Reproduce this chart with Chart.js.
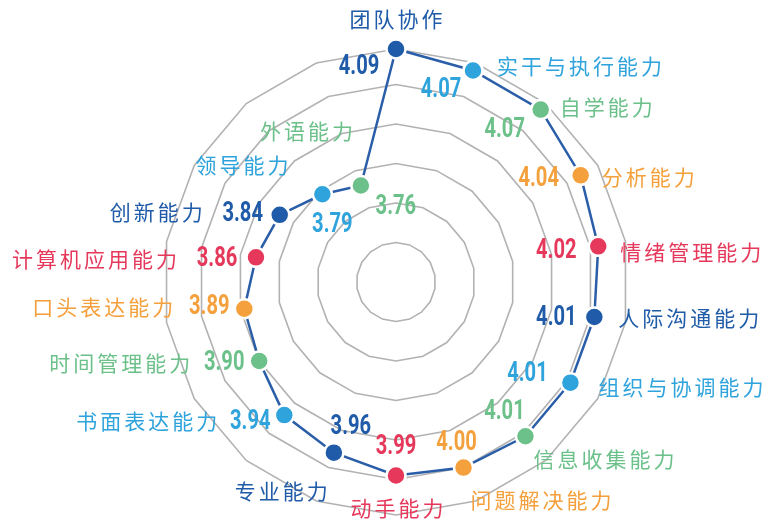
<!DOCTYPE html>
<html>
<head>
<meta charset="utf-8">
<script src="https://cdn.jsdelivr.net/npm/chart.js@4.4.1/dist/chart.umd.min.js"></script>
<style>
  html, body { margin: 0; padding: 0; background: #ffffff; }
  #wrap { width: 773px; height: 522px; }
</style>
</head>
<body>
<div id="wrap"><canvas id="chart" width="773" height="522"></canvas></div>

<script>
// categories clockwise from the top
const categories = ["团队协作", "实干与执行能力", "自学能力", "分析能力", "情绪管理能力",
  "人际沟通能力", "组织与协调能力", "信息收集能力", "问题解决能力", "动手能力",
  "专业能力", "书面表达能力", "时间管理能力", "口头表达能力", "计算机应用能力",
  "创新能力", "领导能力", "外语能力"];
const scores = [4.09, 4.07, 4.07, 4.04, 4.02, 4.01, 4.01, 4.01, 4.00, 3.99,
  3.96, 3.94, 3.90, 3.89, 3.86, 3.84, 3.79, 3.76];
const scaleMin = 3.5;
const scaleMax = 4.09;
const scaleStep = 0.1;

// colours cycle every five categories
const palette = ["#1f5ba8", "#2fa3dc", "#6cc08a", "#f4a03c", "#e5385b"];
const pointColors = categories.map((c, i) => palette[i % palette.length]);

// label placement relative to each point: [dx, dy, align]
const nameOffsets = [
  [0, -30, "center"], [24, -4, "left"], [19, -3, "left"], [21, 2, "left"], [22, 6, "left"],
  [24, 1, "left"], [28, 4, "left"], [8, 23, "left"], [7, 32, "left"], [1, 33, "center"],
  [-6, 38, "right"], [-67, 6, "right"], [-69, 2, "right"], [-71, -2, "right"], [-79, 2, "right"],
  [-77, -3, "right"], [-34, -29, "right"], [-8, -54, "right"]
];
const valueOffsets = [
  [-37, 17], [-32, 19], [-36, 19], [-42, 3], [-42, 4], [-38, 0], [-43, -10], [-21, -25],
  [-7, -26], [0, -30], [17, -27], [-34, 6], [-35, 1], [-35, -3], [-39, 1], [-37, -2],
  [10, 30], [35, 20]
];

const labelPlugin = {
  id: "labelPlugin",
  afterDatasetsDraw(chart) {
    const ctx = chart.ctx;
    const pts = chart.getDatasetMeta(0).data;
    ctx.save();
    ctx.textBaseline = "middle";
    pts.forEach((p, i) => {
      // category name
      const no = nameOffsets[i];
      ctx.font = "400 21px 'Noto Sans CJK SC', 'Noto Sans', sans-serif";
      ctx.letterSpacing = "3px";
      ctx.textAlign = no[2];
      ctx.fillStyle = pointColors[i];
      let nx = p.x + no[0];
      if (no[2] === "right") nx += 3;
      if (no[2] === "center") nx += 1.5;
      ctx.fillText(categories[i], nx, p.y + no[1]);
      // value, condensed bold
      const vo = valueOffsets[i];
      ctx.letterSpacing = "0px";
      ctx.font = "700 28px Roboto, 'DejaVu Sans', sans-serif";
      ctx.textAlign = "center";
      ctx.save();
      ctx.translate(p.x + vo[0], p.y + vo[1]);
      ctx.scale(0.72, 1);
      ctx.fillText(scores[i].toFixed(2), 0, 1);
      ctx.restore();
    });
    ctx.restore();
  }
};

new Chart(document.getElementById("chart").getContext("2d"), {
  type: "radar",
  data: {
    labels: categories,
    datasets: [{
      data: scores,
      borderColor: "#2a5ea8",
      borderWidth: 2.5,
      fill: false,
      clip: false,
      pointRadius: 9.5,
      pointHoverRadius: 9.5,
      pointBackgroundColor: pointColors,
      pointBorderColor: "#ffffff",
      pointBorderWidth: 2.5
    }]
  },
  options: {
    responsive: false,
    animation: false,
    layout: { padding: { left: 96, right: 77, top: 49, bottom: 7 } },
    plugins: { legend: { display: false }, tooltip: { enabled: false } },
    scales: {
      r: {
        min: scaleMin,
        max: scaleMax,
        ticks: { display: false, stepSize: scaleStep },
        grid: { color: "#b2b2b2", lineWidth: 1.6, circular: false },
        angleLines: { display: false },
        pointLabels: { display: false }
      }
    }
  },
  plugins: [labelPlugin]
});
</script>
</body>
</html>
